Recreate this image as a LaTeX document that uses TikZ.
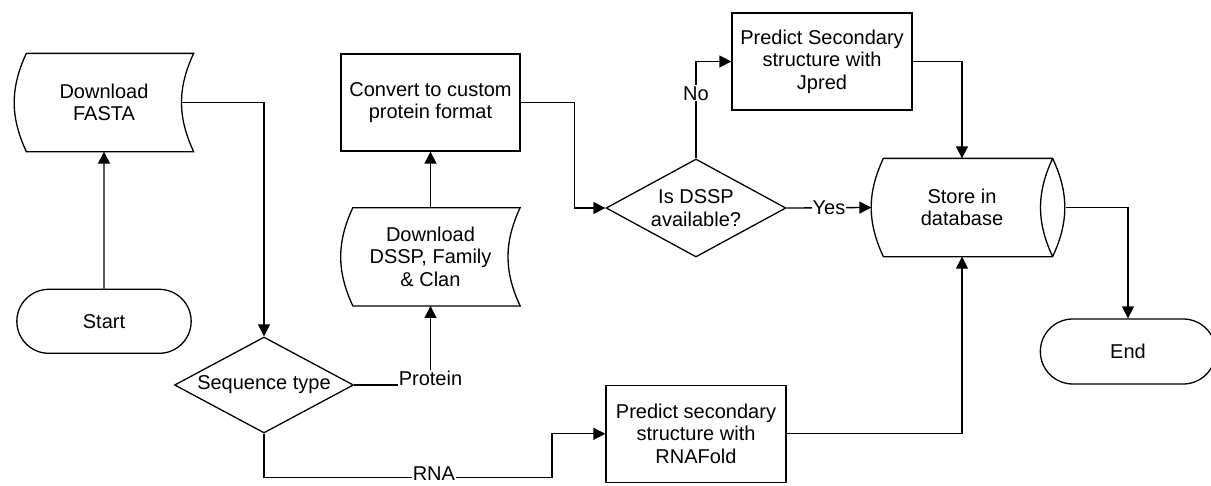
\documentclass[tikz,border=0pt]{standalone}
\usepackage{fontspec}
\setmainfont{Liberation Sans}
\usetikzlibrary{positioning,arrows.meta,shapes.geometric,shapes.misc}

\begin{document}
\begin{tikzpicture}[
  x=1pt,y=-1pt,
  font=\fontsize{20}{22.5}\selectfont,
  line width=1.3pt,
  process/.style={draw,rectangle,minimum width=180pt,minimum height=97pt,align=center},
  decision/.style={draw,diamond,shape aspect=1.85,inner sep=0pt,minimum width=180pt,minimum height=97pt,align=center},
  terminal/.style={draw,rounded rectangle,minimum width=181pt,minimum height=64pt},
  stored/.style={rectangle,minimum width=178pt,minimum height=97pt,align=center},
  flow/.style={draw,-{Triangle[length=12pt,width=12pt]}},
  lbl/.style={fill=white,inner sep=1pt},
]
  \path[use as bounding box,clip] (0,0) rectangle (1211,485);

  % Input
  \node[stored] (fasta) at (104,102.5) {Download\\FASTA};
  \node[terminal,below=137pt of fasta] (start) {Start};
  \node[decision,minimum width=179pt,minimum height=96pt] (seqtype) at (264,385) {Sequence type};

  % Protein branch
  \node[process,minimum width=179pt] (conv) at (430.5,102.5) {Convert to custom\\protein format};
  \node[stored,below=56pt of conv] (dssp) {Download\\DSSP, Family\\\& Clan};
  \node[decision,minimum height=98pt] (isdssp) at (696,208) {Is DSSP\\available?};
  \node[process] (jpred) at (822,61.5) {Predict Secondary\\structure with\\Jpred};

  % RNA branch
  \node[process,below=127pt of isdssp] (rna) {Predict secondary\\structure with\\RNAFold};

  % Output
  \node[stored,minimum width=180pt] (store) at (962,207.5) {Store in\\database};
  \node[terminal,minimum width=182pt,minimum height=65pt] (end) at (1128,351.5) {End};

  % Outlines of the data shapes
  \foreach \n in {fasta,dssp}
    \draw ([xshift=12pt]\n.north west) to[bend right=25] ([xshift=12pt]\n.south west)
      -- (\n.south east) to[bend left=25] (\n.north east) -- cycle;
  \draw ([xshift=12pt]store.north west) to[bend right=25] ([xshift=12pt]store.south west)
    -- (store.south east) to[bend right=25] (store.north east) -- cycle
    (store.north east) to[bend right=25] (store.south east);

  % Edges
  \path[flow] (start) -- (fasta);
  \path[flow] ([xshift=-12pt]fasta.east) -| (seqtype.north);
  \path[flow] (seqtype.east) -| node[lbl,anchor=base]{Protein} (dssp.south);
  \path[flow] (dssp) -- (conv);
  \path[flow] (conv.east) -- ++(54,0) |- (isdssp.west);
  \path[flow] (isdssp.north) |- node[lbl,pos=0.335]{No} (jpred.west);
  \path[flow] (isdssp.east) -- node[lbl]{Yes} (store.west);
  \path[flow] (jpred.east) -| (store.north);
  \path[flow] (seqtype.south) -- ++(0,44) -- node[lbl,pos=0.59,yshift=4pt,inner sep=0.5pt]{RNA} ++(288,0) |- (rna.west);
  \path[flow] (rna.east) -| (store.south);
  \path[flow] ([xshift=13pt]store.east) -| (end.north);
\end{tikzpicture}
\end{document}
